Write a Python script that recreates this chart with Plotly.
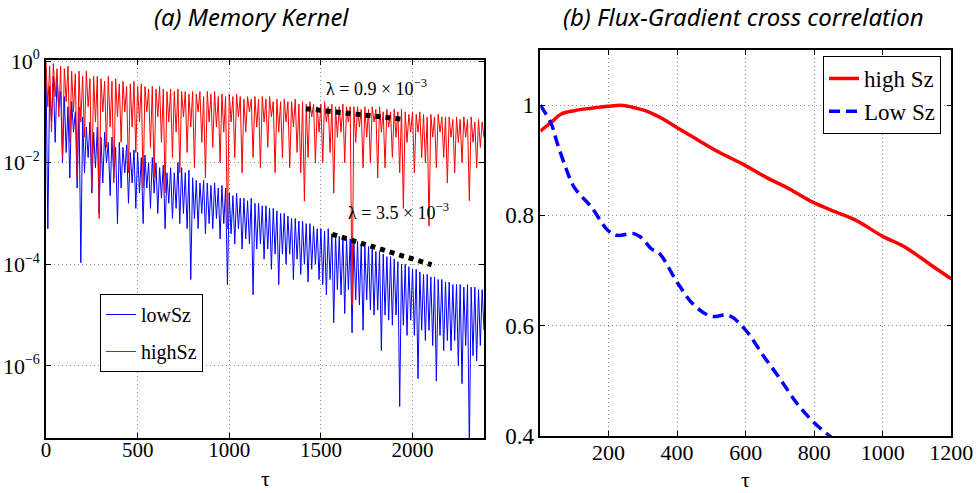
import plotly.graph_objects as go

# ---------------- data: panel (a) memory kernel ----------------
tau_step = 10
low_sz_log = [
    -0.2, -3.3, -0.5, -1.2, -0.3, -1.6, -0.35, -0.9, -0.6, -2.0,
    -0.7, -1.8, -0.9, -2.3, -0.8, -1.4, -1.0, -2.5, -0.9, -3.97,
    -1.1, -2.2, -1.3, -1.9, -1.2, -2.6, -1.4, -2.1, -1.3, -3.0,
    -1.5, -2.4, -1.4, -2.0, -1.6, -2.65, -1.5, -2.3, -1.7, -3.2,
    -1.6, -2.5, -1.7, -2.2, -1.65, -2.8, -1.8, -2.4, -1.75, -2.9,
    -1.8, -2.6, -1.9, -3.2, -1.85, -2.5, -2.0, -2.9, -1.9, -2.6,
    -2.0, -3.0, -2.1, -2.7, -2.05, -3.3, -2.2, -2.8, -2.1, -3.1,
    -2.2, -2.9, -2.0, -3.2, -2.1, -3.0, -2.2, -3.3, -2.15, -4.3,
    -2.3, -3.1, -2.35, -3.3, -2.4, -3.0, -2.35, -3.4, -2.4, -3.2,
    -2.45, -3.3, -2.4, -3.1, -2.5, -3.5, -2.45, -3.2, -2.5, -4.4,
    -2.6, -3.4, -2.65, -3.6, -2.6, -3.3, -2.7, -3.7, -2.7, -3.5,
    -2.75, -3.6, -2.7, -4.6, -2.8, -3.7, -2.8, -3.6, -2.85, -3.9,
    -2.85, -3.7, -2.9, -4.1, -2.9, -3.8, -2.95, -4.4, -3.0, -3.8,
    -3.0, -4.0, -3.05, -3.8, -3.1, -4.3, -3.1, -3.9, -3.15, -4.2,
    -3.15, -4.0, -3.2, -4.35, -3.2, -4.1, -3.25, -4.0, -3.3, -4.3,
    -3.3, -4.4, -3.35, -4.6, -3.3, -4.3, -3.4, -5.15, -3.4, -4.5,
    -3.45, -4.6, -3.45, -4.97, -3.5, -4.5, -3.5, -5.35, -3.55, -4.7,
    -3.55, -4.8, -3.6, -5.3, -3.65, -4.7, -3.65, -4.9, -3.7, -5.0,
    -3.75, -4.9, -3.75, -5.7, -3.8, -5.0, -3.85, -5.1, -3.85, -5.2,
    -3.9, -5.0, -3.95, -6.8, -4.0, -5.2, -4.0, -5.4, -4.05, -5.1,
    -4.1, -5.4, -4.1, -6.25, -4.15, -5.3, -4.2, -5.5, -4.2, -5.3,
    -4.25, -5.6, -4.25, -6.3, -4.3, -5.4, -4.3, -5.7, -4.35, -5.5,
    -4.35, -5.7, -4.4, -5.5, -4.4, -6.0, -4.4, -6.35, -4.45, -5.6,
    -4.4, -7.6, -4.45, -5.8, -4.45, -5.9, -4.5, -5.6, -4.5, -5.3,
]
high_sz_log = [
    0.0, -0.9, -0.1, -1.4, -0.05, -0.7, -0.15, -1.1, -0.1, -1.9,
    -0.15, -0.8, -0.1, -1.6, -0.2, -1.0, -0.25, -2.3, -0.2, -1.2,
    -0.3, -1.5, -0.2, -0.9, -0.35, -2.5, -0.3, -1.2, -0.3, -3.1,
    -0.35, -1.0, -0.4, -1.7, -0.3, -1.3, -0.4, -2.4, -0.35, -1.1,
    -0.45, -1.6, -0.4, -1.0, -0.5, -2.2, -0.45, -1.3, -0.4, -1.8,
    -0.5, -1.2, -0.45, -2.5, -0.5, -1.0, -0.55, -1.7, -0.5, -2.3,
    -0.55, -1.1, -0.5, -1.6, -0.55, -2.6, -0.6, -1.2, -0.55, -1.9,
    -0.6, -1.4, -0.55, -2.2, -0.6, -1.1, -0.6, -1.8, -0.65, -1.3,
    -0.6, -2.1, -0.65, -1.0, -0.6, -1.6, -0.7, -2.3, -0.6, -1.2,
    -0.65, -1.7, -0.6, -1.3, -0.7, -2.0, -0.65, -1.4, -0.7, -3.3,
    -0.65, -1.2, -0.7, -1.9, -0.65, -1.1, -0.7, -2.2, -0.75, -1.4,
    -0.7, -1.0, -0.75, -1.9, -0.7, -1.3, -0.75, -2.1, -0.7, -1.2,
    -0.75, -1.7, -0.7, -1.1, -0.8, -2.2, -0.75, -1.4, -0.8, -1.9,
    -0.75, -1.2, -0.8, -2.1, -0.8, -1.3, -0.75, -1.8, -0.85, -2.2,
    -0.8, -2.76, -0.85, -1.9, -0.8, -1.1, -0.85, -2.0, -0.9, -1.4,
    -0.85, -2.0, -0.8, -1.2, -0.9, -1.8, -0.85, -2.6, -0.9, -1.5,
    -0.9, -1.4, -0.85, -2.0, -0.9, -1.2, -0.9, -4.8, -0.9, -1.6,
    -0.9, -1.3, -0.95, -2.1, -0.9, -1.5, -0.95, -2.0, -0.9, -1.2,
    -0.95, -2.3, -0.9, -1.4, -1.0, -2.1, -0.95, -1.3, -1.0, -1.9,
    -0.95, -1.5, -1.0, -2.2, -0.95, -2.9, -1.0, -1.6, -1.05, -1.4,
    -1.0, -2.2, -1.05, -1.4, -1.0, -1.9, -1.05, -2.0, -1.1, -3.25,
    -1.05, -1.5, -1.1, -2.1, -1.05, -1.4, -1.1, -1.9, -1.1, -2.4,
    -1.1, -1.5, -1.15, -2.2, -1.1, -1.6, -1.15, -2.0, -1.1, -1.5,
    -1.15, -2.75, -1.1, -1.6, -1.2, -2.1, -1.15, -1.7, -1.2, -1.5,
]
tau_a = [i * tau_step for i in range(len(low_sz_log))]
low_sz = [10 ** v for v in low_sz_log]
high_sz = [10 ** v for v in high_sz_log]

# fitted decay guides (dotted)
fit_hi_tau = [1418, 1958]
fit_hi_val = [10 ** -0.94, 10 ** -1.15]
fit_lo_tau = [1562, 2104]
fit_lo_val = [10 ** -3.41, 10 ** -4.01]

a_xticks = [0, 500, 1000, 1500, 2000]
a_yticks = [1e-6, 1e-4, 1e-2, 1]
a_yexp = ["−6", "−4", "−2", "0"]

# ---------------- data: panel (b) cross correlation ----------------
high_b_tau = [1, 33, 62, 100, 150, 198, 242, 281, 320, 359, 398, 456, 524, 592,
              660, 728, 796, 864, 922, 1000, 1058, 1100, 1150, 1200]
high_b_val = [0.953, 0.969, 0.984, 0.990, 0.9945, 0.998, 0.9995, 0.9945, 0.987,
              0.975, 0.960, 0.9385, 0.914, 0.893, 0.869, 0.848, 0.824, 0.806,
              0.791, 0.762, 0.745, 0.728, 0.706, 0.685]
low_b_tau = [1, 33, 50, 75, 100, 150, 198, 224, 274, 299, 324, 350, 400, 450,
             500, 550, 600, 650, 700, 750, 800, 850, 900]
low_b_val = [1.0, 0.966, 0.932, 0.887, 0.851, 0.815, 0.773, 0.764, 0.767, 0.758,
             0.740, 0.730, 0.679, 0.637, 0.617, 0.619, 0.592, 0.547, 0.504,
             0.459, 0.424, 0.3975, 0.37]
b_xticks = [200, 400, 600, 800, 1000, 1200]
b_yticks = [0.4, 0.6, 0.8, 1.0]
b_yticktext = ["0.4", "0.6", "0.8", "1"]

SERIF = "Liberation Serif"
W, H = 979, 493

fig = go.Figure()

fig.add_trace(go.Scatter(x=tau_a, y=low_sz, mode="lines", name="lowSz",
                         line=dict(color="#0000ff", width=1),
                         xaxis="x", yaxis="y", legend="legend", legendgroup="a1"))
fig.add_trace(go.Scatter(x=tau_a, y=high_sz, mode="lines", name="highSz",
                         line=dict(color="#ff0000", width=1),
                         xaxis="x", yaxis="y", legend="legend", legendgroup="a2"))
fig.add_trace(go.Scatter(x=fit_hi_tau, y=fit_hi_val, mode="lines", showlegend=False,
                         line=dict(color="black", width=5, dash="5px,5px"),
                         xaxis="x", yaxis="y"))
fig.add_trace(go.Scatter(x=fit_lo_tau, y=fit_lo_val, mode="lines", showlegend=False,
                         line=dict(color="black", width=5, dash="5px,5px"),
                         xaxis="x", yaxis="y"))

fig.add_trace(go.Scatter(x=high_b_tau, y=high_b_val, mode="lines", name="high Sz",
                         line=dict(color="#ff0000", width=3.5, shape="spline"),
                         xaxis="x2", yaxis="y2", legend="legend2"))
fig.add_trace(go.Scatter(x=low_b_tau, y=low_b_val, mode="lines", name="Low Sz",
                         line=dict(color="#0000ff", width=3.5, dash="11px,6px", shape="spline"),
                         xaxis="x2", yaxis="y2", legend="legend2"))

def px_x(p):
    return p / W

def px_y(p):
    return 1 - p / H

axis_common = dict(
    showline=True, linecolor="black", linewidth=1.5, mirror="ticks",
    ticks="inside", ticklen=5, tickcolor="black", tickwidth=1,
    showgrid=True, gridcolor="#909090", gridwidth=1, griddash="1px,3px",
    zeroline=False, automargin=False,
)

a_yticktext = ["10<sup><span style='font-size:14px'>%s</span></sup>" % e for e in a_yexp]

fig.update_layout(
    width=W, height=H,
    margin=dict(l=0, r=0, t=0, b=0, autoexpand=False),
    paper_bgcolor="white", plot_bgcolor="white",
    xaxis=dict(domain=[px_x(46), px_x(484)], range=[0, 2390], tickvals=a_xticks,
               tickfont=dict(family=SERIF, size=21, color="black"), anchor="y",
               ticklabelstandoff=-8, **axis_common),
    yaxis=dict(domain=[px_y(438), px_y(60)], type="log", range=[-7.42, 0.02],
               tickvals=a_yticks, ticktext=a_yticktext,
               tickfont=dict(family=SERIF, size=22, color="black"), anchor="x",
               **axis_common),
    xaxis2=dict(domain=[px_x(540.3), px_x(951.3)], range=[1, 1200], tickvals=b_xticks,
                tickfont=dict(family=SERIF, size=22, color="black"), anchor="y2",
                ticklabelstandoff=-4, **axis_common),
    yaxis2=dict(domain=[px_y(436), px_y(50)], range=[0.4, 1.1], tickvals=b_yticks,
                ticktext=b_yticktext,
                tickfont=dict(family=SERIF, size=23, color="black"), anchor="x2",
                **axis_common),
    legend=dict(x=px_x(100), y=px_y(294), xanchor="left", yanchor="top",
                bgcolor="white", bordercolor="black", borderwidth=1,
                font=dict(family=SERIF, size=20, color="black"),
                tracegroupgap=8, traceorder="grouped"),
    legend2=dict(x=px_x(823), y=px_y(56), xanchor="left", yanchor="top",
                 bgcolor="white", bordercolor="black", borderwidth=1,
                 font=dict(family=SERIF, size=23, color="black")),
    showlegend=True,
)

def label(text, x, y, family, size):
    return dict(text=text, x=px_x(x), y=px_y(y), xref="paper", yref="paper",
                xanchor="center", yanchor="middle", showarrow=False,
                font=dict(family=family, size=size, color="black"))

annotations = [
    label("<i>(a) Memory Kernel</i>", 251, 17, "Noto Sans", 24),
    label("<i>(b) Flux-Gradient cross correlation</i>", 743, 17, "Noto Sans", 24),
    label("λ = 0.9 × 10<sup>−3</sup>", 376, 87, SERIF, 18),
    label("λ = 3.5 × 10<sup>−3</sup>", 398, 211, SERIF, 18),
    label("τ", 265, 478, SERIF, 22),
    label("τ", 745, 479, SERIF, 22),
]
fig.update_layout(annotations=annotations)

# the page body has a default 8px margin; remove it so the figure fills the window
fig.write_html("out.html", config={"displayModeBar": False},
               post_script="document.body.style.margin='0';"
               "document.body.style.overflow='hidden';")
